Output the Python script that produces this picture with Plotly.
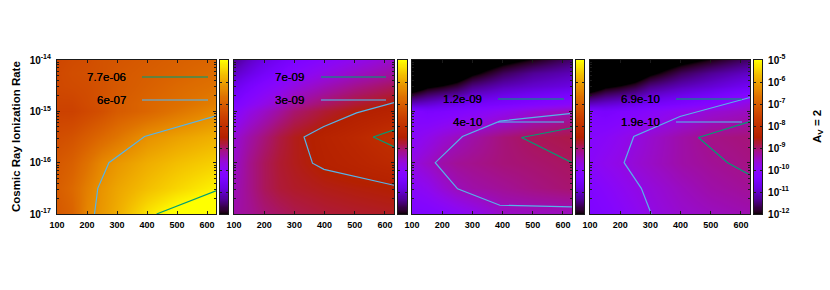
import math
import plotly.graph_objects as go

W, H = 830, 290
temps = [100, 150, 200, 250, 300, 400, 500, 630]
rate_exp = [-17, -16.5, -16, -15.5, -15, -14.85, -14.5, -14.25, -14]
rates = [10 ** e for e in rate_exp]

z1 = [
    [-7.1, -6.9, -6.35, -6.1, -5.85, -5.25, -4.85, -4.6],
    [-7.0, -6.8, -6.45, -6.15, -5.95, -5.65, -5.4, -5.11],
    [-7.1, -6.95, -6.65, -6.32, -6.12, -5.85, -5.65, -5.45],
    [-7.3, -7.2, -7.0, -6.8, -6.6, -6.2, -6.0, -5.8],
    [-7.55, -7.55, -7.4, -7.25, -7.05, -6.85, -6.6, -6.3],
    [-7.5, -7.5, -7.35, -7.2, -7.05, -6.85, -6.7, -6.45],
    [-7.4, -7.35, -7.3, -7.2, -7.1, -6.95, -6.8, -6.65],
    [-7.4, -7.3, -7.25, -7.2, -7.1, -7.0, -6.9, -6.75],
    [-7.45, -7.35, -7.3, -7.2, -7.15, -7.05, -6.95, -6.85],
]
z2 = [
    [-9.3, -9.2, -9.05, -8.95, -8.85, -8.75, -8.7, -8.65],
    [-9.4, -9.15, -8.9, -8.75, -8.68, -8.6, -8.55, -8.5],
    [-9.5, -9.15, -8.9, -8.72, -8.62, -8.45, -8.35, -8.2],
    [-9.6, -9.3, -9.05, -8.8, -8.62, -8.4, -8.25, -8.0],
    [-10.1, -9.75, -9.5, -9.25, -9.0, -8.72, -8.53, -8.4],
    [-10.3, -10.0, -9.75, -9.5, -9.25, -8.95, -8.72, -8.52],
    [-10.7, -10.4, -10.15, -9.95, -9.7, -9.4, -9.15, -8.9],
    [-11.0, -10.75, -10.5, -10.3, -10.05, -9.75, -9.5, -9.25],
    [-11.3, -11.0, -10.75, -10.55, -10.35, -10.05, -9.8, -9.5],
]
z3 = [
    [-10.3, -10.25, -10.15, -10.0, -9.85, -9.5, -9.47, -9.45],
    [-10.0, -9.85, -9.6, -9.4, -9.3, -9.2, -9.1, -9.0],
    [-9.7, -9.5, -9.3, -9.2, -9.15, -9.05, -9.0, -8.92],
    [-10.0, -9.8, -9.6, -9.45, -9.3, -9.05, -8.9, -8.82],
    [-10.2, -10.35, -10.3, -10.2, -10.1, -9.85, -9.6, -9.35],
    [-11.0, -10.9, -10.75, -10.65, -10.5, -10.35, -10.2, -10.0],
    [-12.5, -12.1, -11.95, -11.75, -11.4, -11.1, -10.95, -10.8],
    [-13, -13, -12.8, -12.5, -12.1, -11.6, -11.3, -11.1],
    [-13, -13, -13, -13, -12.6, -12.2, -11.9, -11.5],
]
z4 = [
    [-10.3, -10.2, -10.05, -9.9, -9.73, -9.55, -9.45, -9.35],
    [-10.2, -10.05, -9.9, -9.77, -9.65, -9.45, -9.3, -9.2],
    [-10.0, -9.85, -9.74, -9.6, -9.5, -9.3, -9.2, -9.1],
    [-10.1, -10.0, -9.85, -9.7, -9.55, -9.3, -9.12, -9.05],
    [-10.3, -10.4, -10.3, -10.2, -10.05, -9.8, -9.6, -9.45],
    [-11.0, -10.9, -10.8, -10.65, -10.5, -10.3, -10.1, -9.65],
    [-12.5, -12.1, -11.95, -11.75, -11.4, -11.1, -10.9, -10.6],
    [-13, -13, -12.8, -12.5, -12.1, -11.6, -11.3, -11.0],
    [-13, -13, -13, -13, -12.6, -12.2, -11.9, -11.5],
]

# contour polylines: temperature, log10(rate)
green1_x = [432, 630];  green1_y = [-17, -16.55]
blue1_x = [225, 236, 273, 392, 630];  blue1_y = [-17, -16.5, -16, -15.49, -15.09]
green2_x = [630, 561, 630];  green2_y = [-15.36, -15.5, -15.69]
blue2_x = [630, 506, 396, 332, 360, 398, 630];  blue2_y = [-14.83, -15.03, -15.3, -15.5, -16.01, -16.13, -16.44]
green3_x = [630, 463, 630];  green3_y = [-15.32, -15.51, -16]
blue3_x = [630, 391, 267, 177, 251, 391, 630];  blue3_y = [-15.04, -15.19, -15.49, -16, -16.51, -16.83, -16.86]
green4_x = [630, 459, 556, 630];  green4_y = [-15.2, -15.51, -16, -16.24]
blue4_x = [303, 270, 213, 245, 398, 630];  blue4_y = [-17, -16.5, -16, -15.49, -15.1, -14.73]

labels_green = ["7.7e-06", "7e-09", "1.2e-09", "6.9e-10"]
labels_blue = ["6e-07", "3e-09", "4e-10", "1.9e-10"]
x_ticks = [100, 200, 300, 400, 500, 600]
y_ticks = [-17, -16, -15, -14]
cb_ticks = [-12, -11, -10, -9, -8, -7, -6, -5]
cb_levels = [-12 + i * 0.05 for i in range(141)]

GREEN, BLUE = "#009e73", "#56b4e9"
FRAME = "#1a1a1a"
TICK = dict(family="Liberation Sans", size=9, color="black", weight="bold")
TICK_Y = dict(family="Liberation Sans", size=10, color="black", weight="bold")

scale = []
for i in range(65):
    v = i / 64
    r = math.sqrt(v)
    g = v ** 3
    b = max(0.0, math.sin(2 * math.pi * v))
    scale.append([v, f"rgb({r*255:.0f},{g*255:.0f},{b*255:.0f})"])

# pixel geometry
top, bottom = 60, 214
panels = [(57, 216), (234, 394), (412, 572), (590, 750)]
bars = [(220, 228), (398, 407), (576, 584), (754, 762)]
legend_geo = [
    (128, 142, 208, 77, 100),
    (306, 321, 386, 77, 100),
    (484, 498, 564, 99, 122),
    (662, 676, 742, 99, 122),
]
zs = [z1, z2, z3, z4]
greens = [(green1_x, green1_y), (green2_x, green2_y), (green3_x, green3_y), (green4_x, green4_y)]
blues = [(blue1_x, blue1_y), (blue2_x, blue2_y), (blue3_x, blue3_y), (blue4_x, blue4_y)]

minor_y = [m * 10.0 ** e for e in range(-17, -14) for m in range(2, 10)]
minor_cb = [e + math.log10(m) for e in range(-12, -5) for m in range(2, 10)]

def sup(e):
    return f"10<sup>{e}</sup>"

fig = go.Figure()
layout = dict(
    width=W, height=H, margin=dict(l=0, r=0, t=0, b=0, pad=0, autoexpand=False),
    paper_bgcolor="white", plot_bgcolor="white", showlegend=False,
)
shapes, annotations = [], []
yd = [1 - bottom / H, 1 - top / H]

for i in range(4):
    a = 2 * i + 1
    b = 2 * i + 2
    xa, ya = f"x{a}", f"y{a}"
    xb, yb = f"x{b}", f"y{b}"
    fig.add_trace(go.Heatmap(x=temps, y=rates, z=zs[i], zmin=-12, zmax=-5, colorscale=scale,
                             zsmooth="best", showscale=False, xaxis=xa, yaxis=ya))
    for (xs, ys), col in ((greens[i], GREEN), (blues[i], BLUE)):
        fig.add_trace(go.Scatter(x=xs, y=[10 ** v for v in ys], mode="lines",
                                 line=dict(color=col, width=1.2), xaxis=xa, yaxis=ya))
    fig.add_trace(go.Heatmap(x=[0, 1], y=cb_levels, z=[[v, v] for v in cb_levels], zmin=-12, zmax=-5,
                             colorscale=scale, zsmooth="best", showscale=False, xaxis=xb, yaxis=yb))
    layout[f"xaxis{a}"] = dict(
        domain=[panels[i][0] / W, panels[i][1] / W], range=[100, 630], anchor=ya,
        tickvals=x_ticks, ticks="inside", ticklen=3, tickwidth=1, tickcolor=FRAME,
        showline=True, linecolor=FRAME, linewidth=1.2, mirror="ticks", showgrid=False,
        zeroline=False, tickfont=TICK, ticklabelstandoff=2)
    layout[f"yaxis{a}"] = dict(
        domain=yd, type="log", range=[-17, -14], anchor=xa,
        tickvals=[10.0 ** e for e in y_ticks], ticktext=[sup(e) for e in y_ticks],
        showticklabels=i == 0, ticks="inside", ticklen=3, tickwidth=1, tickcolor=FRAME,
        minor=dict(tickvals=minor_y, ticks="inside", ticklen=1.5, tickcolor=FRAME, showgrid=False),
        showline=True, linecolor=FRAME, linewidth=1.2, mirror="ticks", showgrid=False,
        tickfont=TICK_Y, ticklabelstandoff=3)
    layout[f"xaxis{b}"] = dict(
        domain=[bars[i][0] / W, bars[i][1] / W], range=[0, 1], anchor=yb, showticklabels=False,
        ticks="", showline=True, linecolor=FRAME, linewidth=1.2, mirror=True, showgrid=False,
        zeroline=False)
    layout[f"yaxis{b}"] = dict(
        domain=yd, range=[-12, -5], anchor=xb, side="right",
        tickvals=cb_ticks, ticktext=[sup(e) for e in cb_ticks], showticklabels=i == 3,
        ticks="inside", ticklen=2, tickwidth=1, tickcolor=FRAME,
        minor=dict(tickvals=minor_cb, ticks="", showgrid=False),
        showline=True, linecolor=FRAME, linewidth=1.2, mirror="ticks", showgrid=False,
        zeroline=False, tickfont=TICK_Y, ticklabelstandoff=3)
    tx, x0, x1, y1, y2 = legend_geo[i]
    for lab, yy, col in ((labels_green[i], y1, GREEN), (labels_blue[i], y2, BLUE)):
        annotations.append(dict(x=tx / W, y=1 - yy / H, xref="paper", yref="paper", text=lab,
                                xanchor="right", yanchor="middle", showarrow=False,
                                font=dict(family="Liberation Sans", size=11.5, color="black",
                                          shadow="0 0 0.6px #000")))
        shapes.append(dict(type="line", xref="paper", yref="paper", x0=x0 / W, x1=x1 / W,
                           y0=1 - yy / H, y1=1 - yy / H, opacity=0.55,
                           line=dict(color=col, width=2.2)))

annotations.append(dict(x=16 / W, y=1 - 137 / H, xref="paper", yref="paper", textangle=-90,
                        xanchor="center", yanchor="middle",
                        text="Cosmic Ray Ionization Rate", showarrow=False,
                        font=dict(family="Liberation Sans", size=11.5, color="black", weight="bold")))
annotations.append(dict(x=818 / W, y=1 - 127 / H, xref="paper", yref="paper", textangle=-90,
                        xanchor="center", yanchor="middle",
                        text="A<sub>V</sub> = 2", showarrow=False,
                        font=dict(family="Liberation Sans", size=11.5, color="black", weight="bold")))
layout["shapes"] = shapes
layout["annotations"] = annotations
fig.update_layout(**layout)
fig.write_html("out.html", config=dict(displayModeBar=False),
               post_script="document.body.style.margin='0';document.documentElement.style.overflow='hidden';")
